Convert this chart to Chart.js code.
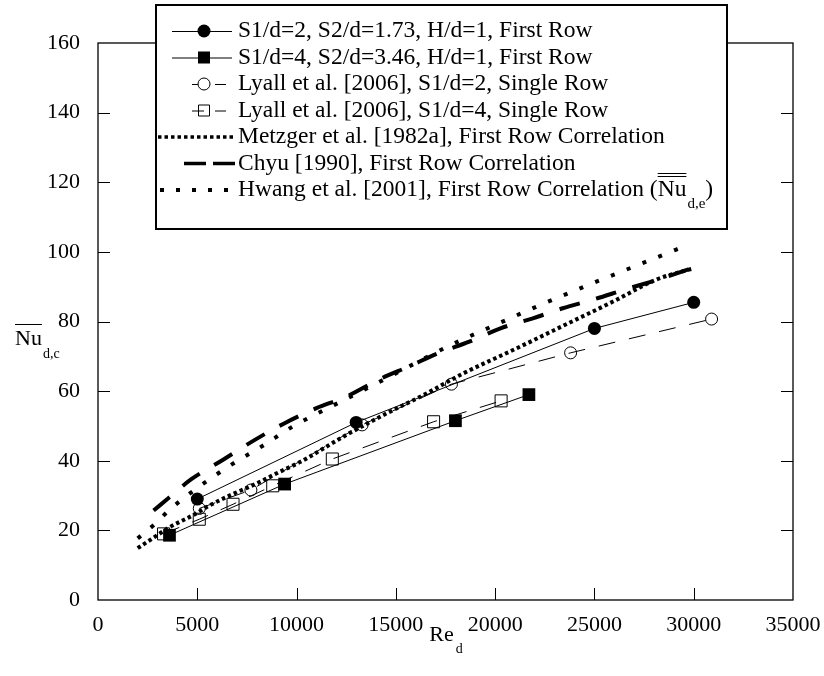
<!DOCTYPE html>
<html>
<head>
<meta charset="utf-8">
<script src="https://cdn.jsdelivr.net/npm/chart.js@4"></script>
<style>
  html, body { margin: 0; padding: 0; background: #fff; }
  #wrap { width: 824px; height: 676px; position: relative; }
</style>
</head>
<body>
<div id="wrap"><canvas id="c" width="824" height="676"></canvas></div>
<script>
// Reynolds number (x) and Nusselt number (y) for each series
const reS1 = [5000, 13000, 25000, 30000];
const nuS1 = [29, 51, 78, 85.5];

const reS2 = [3600, 9400, 18000, 21700];
const nuS2 = [18.6, 33.3, 51.5, 59];

const reLyall2 = [5100, 7700, 13300, 17800, 23800, 30900];
const nuLyall2 = [26.3, 31.6, 50.3, 62, 71, 80.7];

const reLyall4 = [3300, 5100, 6800, 8800, 11800, 16900, 20300];
const nuLyall4 = [19, 23.2, 27.5, 32.8, 40.5, 51.2, 57.2];

const reMetzger = [2000, 2800, 3600, 4800, 5600, 6700, 8000, 9000, 10200, 12350, 14400, 16400, 18400, 20900, 23400, 26000, 28100, 30000];
const nuMetzger = [14.9, 17.9, 20.9, 24.4, 27.1, 30.2, 33.5, 36.4, 39.7, 46.9, 53.2, 58.9, 65.1, 71.8, 78.7, 85.9, 92.0, 95.3];

const reChyu = [2800, 3600, 4700, 6300, 7900, 9400, 11000, 12500, 14100, 15700, 17100, 18700, 20300, 21900, 23400, 25000, 26600, 28300, 30000];
const nuChyu = [25.7, 29.5, 34.7, 40.3, 46.0, 50.8, 55.1, 58.4, 63.2, 67.2, 70.8, 74.2, 78.1, 80.9, 83.8, 86.4, 89.3, 92.2, 95.5];

const reHwang = [2000, 2900, 3600, 5100, 6700, 8300, 9800, 11400, 12900, 15300, 17600, 20000, 22300, 24700, 27000, 29400];
const nuHwang = [17.7, 22.0, 25.9, 32.6, 38.8, 44.3, 49.8, 54.6, 58.9, 66.0, 72.8, 79.0, 84.8, 90.5, 95.8, 101.3];

const xTicks = [0, 5000, 10000, 15000, 20000, 25000, 30000, 35000];
const yTicks = [0, 20, 40, 60, 80, 100, 120, 140, 160];

const legendLabels = [
  'S1/d=2, S2/d=1.73, H/d=1, First Row',
  'S1/d=4, S2/d=3.46, H/d=1, First Row',
  'Lyall et al. [2006], S1/d=2, Single Row',
  'Lyall et al. [2006], S1/d=4, Single Row',
  'Metzger et al. [1982a], First Row Correlation',
  'Chyu [1990], First Row Correlation',
  'Hwang et al. [2001], First Row Correlation ('
];

const SERIF = '"Liberation Serif", "Times New Roman", serif';
const pts = (xs, ys) => xs.map((x, i) => ({ x: x, y: ys[i] }));

const datasets = [
  { label: legendLabels[0], data: pts(reS1, nuS1), borderColor: '#000', borderWidth: 1,
    pointStyle: 'circle', pointRadius: 6.5, backgroundColor: '#000', pointBorderWidth: 0, order: 0 },
  { label: legendLabels[1], data: pts(reS2, nuS2), borderColor: '#000', borderWidth: 1,
    pointStyle: 'rect', pointRadius: 9, backgroundColor: '#000', pointBorderWidth: 0, order: 1 },
  { label: legendLabels[2], data: pts(reLyall2, nuLyall2), borderColor: '#000', borderWidth: 1,
    borderDash: [17, 14], pointStyle: 'circle', pointRadius: 6, backgroundColor: 'rgba(0,0,0,0)',
    pointBorderWidth: 1, order: 2 },
  { label: legendLabels[3], data: pts(reLyall4, nuLyall4), borderColor: '#000', borderWidth: 1,
    borderDash: [17, 14], pointStyle: 'rect', pointRadius: 8.5, backgroundColor: 'rgba(0,0,0,0)',
    pointBorderWidth: 1, order: 3 },
  { label: legendLabels[4], data: pts(reMetzger, nuMetzger), borderColor: '#000', borderWidth: 4,
    borderDash: [3.5, 3], pointRadius: 0, cubicInterpolationMode: 'monotone', order: 4 },
  { label: legendLabels[5], data: pts(reChyu, nuChyu), borderColor: '#000', borderWidth: 4,
    borderDash: [21, 17], pointRadius: 0, cubicInterpolationMode: 'monotone', order: 5 },
  { label: legendLabels[6], data: pts(reHwang, nuHwang), borderColor: '#000', borderWidth: 4,
    borderDash: [4, 13], pointRadius: 0, cubicInterpolationMode: 'monotone', order: 6 }
];

// Frame around the plot area and inward tick marks on all four sides
const framePlugin = {
  id: 'frame',
  beforeDatasetsDraw(chart) {
    const { ctx, chartArea: a, scales } = chart;
    ctx.save();
    ctx.strokeStyle = '#000';
    ctx.lineWidth = 1.3;
    ctx.strokeRect(a.left, a.top, a.right - a.left, a.bottom - a.top);
    ctx.lineWidth = 1;
    const tl = 12;
    ctx.beginPath();
    xTicks.slice(1, -1).forEach(v => {
      const px = Math.round(scales.x.getPixelForValue(v)) + 0.5;
      ctx.moveTo(px, a.bottom); ctx.lineTo(px, a.bottom - tl);
      ctx.moveTo(px, a.top); ctx.lineTo(px, a.top + tl);
    });
    yTicks.slice(1, -1).forEach(v => {
      const py = Math.round(scales.y.getPixelForValue(v)) + 0.5;
      ctx.moveTo(a.left, py); ctx.lineTo(a.left + tl, py);
      ctx.moveTo(a.right, py); ctx.lineTo(a.right - tl, py);
    });
    ctx.stroke();
    ctx.restore();
  }
};

// Axis titles with overline / subscripts, and the boxed legend
const annotPlugin = {
  id: 'annot',
  afterDraw(chart) {
    const { ctx } = chart;
    ctx.save();
    ctx.fillStyle = '#000';
    ctx.strokeStyle = '#000';
    ctx.textBaseline = 'alphabetic';
    ctx.textAlign = 'left';

    // x axis title: Re_d
    ctx.font = '22px ' + SERIF;
    const reW = ctx.measureText('Re').width;
    const xc = (chart.chartArea.left + chart.chartArea.right) / 2;
    ctx.fillText('Re', xc - reW / 2 - 4, 641);
    ctx.font = '14px ' + SERIF;
    ctx.fillText('d', xc + reW / 2 - 2, 653);

    // y axis title: overlined Nu_d,c
    ctx.font = '22px ' + SERIF;
    const nuW = ctx.measureText('Nu').width;
    ctx.fillText('Nu', 15, 345);
    ctx.lineWidth = 1;
    ctx.beginPath();
    ctx.moveTo(15, 324.5); ctx.lineTo(15 + nuW, 324.5);
    ctx.stroke();
    ctx.font = '14px ' + SERIF;
    ctx.fillText('d,c', 43, 358);

    // legend box
    const bx = 156, by = 5, bw = 571, bh = 224;
    ctx.fillStyle = '#fff';
    ctx.fillRect(bx, by, bw, bh);
    ctx.lineWidth = 2;
    ctx.strokeRect(bx, by, bw, bh);
    ctx.fillStyle = '#000';

    const rowY = i => 31 + 26.5 * i;
    const tx = 238;
    const mx = 204;
    const legendFont = '23.5px ' + SERIF;

    legendLabels.forEach((lab, i) => {
      const y = rowY(i);
      ctx.save();
      ctx.strokeStyle = '#000';
      ctx.fillStyle = '#000';
      if (i === 0 || i === 1) {
        ctx.lineWidth = 1;
        ctx.beginPath(); ctx.moveTo(172, y + 0.5); ctx.lineTo(232, y + 0.5); ctx.stroke();
        if (i === 0) {
          ctx.beginPath(); ctx.arc(mx, y, 6.5, 0, Math.PI * 2); ctx.fill();
        } else {
          ctx.fillRect(mx - 6, y - 6, 12, 12);
        }
      } else if (i === 2 || i === 3) {
        ctx.lineWidth = 1;
        ctx.beginPath();
        ctx.moveTo(192, y + 0.5); ctx.lineTo(i === 2 ? 198 : 204, y + 0.5);
        ctx.moveTo(215, y + 0.5); ctx.lineTo(226, y + 0.5);
        ctx.stroke();
        ctx.beginPath();
        if (i === 2) ctx.arc(mx, y, 6, 0, Math.PI * 2);
        else ctx.rect(mx - 5.5, y - 5.5, 11, 11);
        ctx.stroke();
      } else if (i === 4) {
        ctx.lineWidth = 3.5;
        ctx.setLineDash([3.5, 3]);
        ctx.beginPath(); ctx.moveTo(158, y); ctx.lineTo(235, y); ctx.stroke();
      } else if (i === 5) {
        ctx.lineWidth = 3.5;
        ctx.beginPath();
        ctx.moveTo(184, y); ctx.lineTo(206, y);
        ctx.moveTo(213, y); ctx.lineTo(235, y);
        ctx.stroke();
      } else {
        ctx.lineWidth = 4;
        ctx.setLineDash([4, 12]);
        ctx.beginPath(); ctx.moveTo(160, y); ctx.lineTo(236, y); ctx.stroke();
      }
      ctx.restore();

      ctx.font = legendFont;
      ctx.textBaseline = 'middle';
      ctx.fillText(lab, tx, y);
      if (i === 6) {
        let x = tx + ctx.measureText(lab).width;
        const w = ctx.measureText('Nu').width;
        ctx.fillText('Nu', x, y);
        ctx.lineWidth = 1;
        ctx.beginPath();
        ctx.moveTo(x, y - 16.5); ctx.lineTo(x + w, y - 16.5);
        ctx.moveTo(x, y - 13.5); ctx.lineTo(x + w, y - 13.5);
        ctx.stroke();
        x += w + 1;
        ctx.font = '15px ' + SERIF;
        ctx.fillText('d,e', x, y + 14);
        x += ctx.measureText('d,e').width;
        ctx.font = legendFont;
        ctx.fillText(')', x, y);
      }
    });
    ctx.restore();
  }
};

new Chart(document.getElementById('c'), {
  type: 'line',
  data: { datasets: datasets },
  options: {
    responsive: false,
    animation: false,
    devicePixelRatio: 1,
    layout: { padding: { left: 0, right: 31, top: 43, bottom: 0 } },
    plugins: { legend: { display: false }, tooltip: { enabled: false } },
    elements: { line: { fill: false } },
    scales: {
      x: {
        type: 'linear', min: 0, max: 35000,
        afterBuildTicks: s => { s.ticks = xTicks.map(v => ({ value: v })); },
        afterFit: s => { s.height = 76; s.paddingLeft = 0; s.paddingRight = 0; },
        grid: { display: false, drawTicks: false },
        border: { display: false },
        ticks: { color: '#000', padding: 12, maxRotation: 0, autoSkip: false,
                 font: { family: SERIF, size: 22 }, callback: v => String(v) }
      },
      y: {
        type: 'linear', min: 0, max: 160,
        afterBuildTicks: s => { s.ticks = yTicks.map(v => ({ value: v })); },
        afterFit: s => { s.width = 98; s.paddingTop = 0; s.paddingBottom = 0; },
        grid: { display: false, drawTicks: false },
        border: { display: false },
        ticks: { color: '#000', padding: 18, autoSkip: false,
                 font: { family: SERIF, size: 22 }, callback: v => String(v) }
      }
    }
  },
  plugins: [framePlugin, annotPlugin]
});
</script>
</body>
</html>
